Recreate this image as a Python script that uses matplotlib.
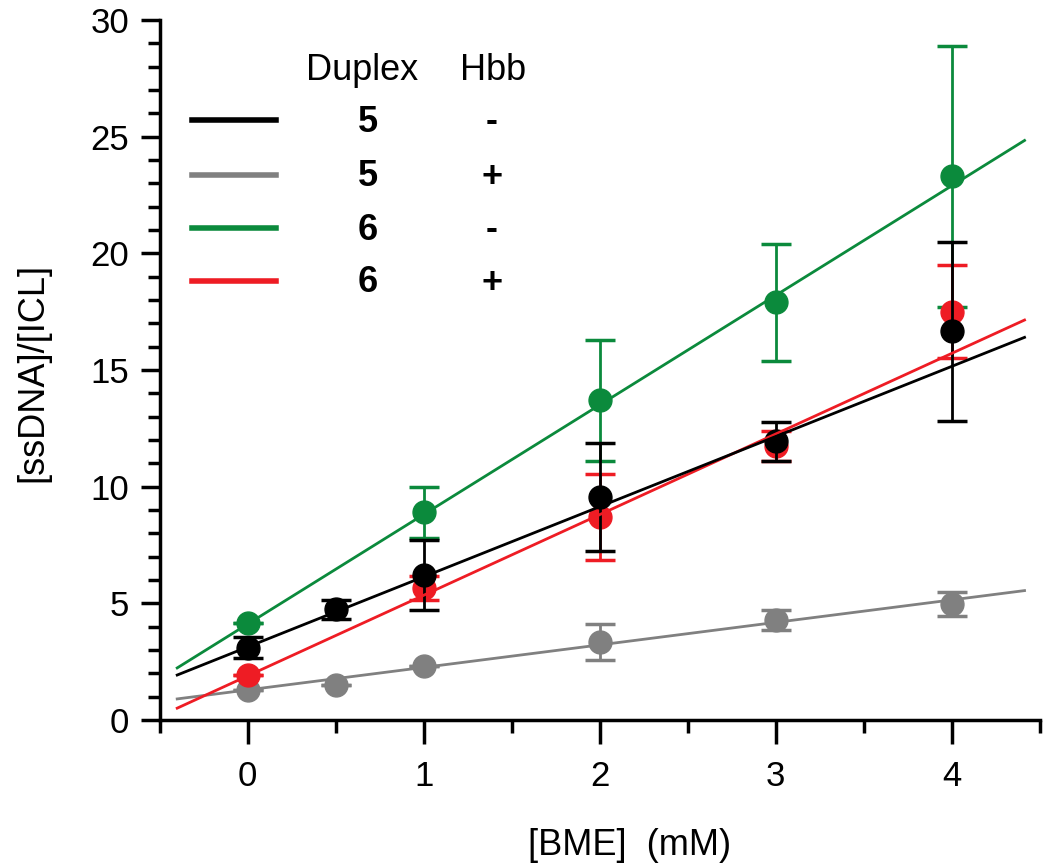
import matplotlib.pyplot as plt
import numpy as np
from matplotlib.ticker import MultipleLocator

plt.rcParams['font.family'] = ['Liberation Sans', 'DejaVu Sans']

# measured data: [BME] (mM) vs [ssDNA]/[ICL]
bme = [0, 0.5, 1, 2, 3, 4]
bme6 = [0, 1, 2, 3, 4]

d5_minus = [3.1, 4.75, 6.2, 9.55, 11.95, 16.65]
d5_minus_err = [0.45, 0.4, 1.5, 2.3, 0.83, 3.83]
d5_plus = [1.28, 1.52, 2.3, 3.35, 4.28, 4.97]
d5_plus_err = [0.0, 0.0, 0.0, 0.77, 0.43, 0.53]
d6_minus = [4.15, 8.9, 13.7, 17.9, 23.3]
d6_minus_err = [0.0, 1.1, 2.6, 2.5, 5.6]
d6_plus = [1.95, 5.65, 8.7, 11.75, 17.5]
d6_plus_err = [0.0, 0.5, 1.86, 0.65, 2.0]

# linear fits (slope, intercept)
fit_d5_minus = (3.005, 3.13)
fit_d5_plus = (0.964, 1.29)
fit_d6_minus = (4.694, 4.11)
fit_d6_plus = (3.454, 1.89)
fit_range = (-0.40, 4.415)

green = '#0b8a3c'
red = '#ee1c24'
gray = '#808080'

series = [
    (bme, d5_plus, d5_plus_err, fit_d5_plus, gray),
    (bme6, d6_minus, d6_minus_err, fit_d6_minus, green),
    (bme6, d6_plus, d6_plus_err, fit_d6_plus, red),
    (bme, d5_minus, d5_minus_err, fit_d5_minus, "black"),
]

fig = plt.figure(figsize=(10.5, 8.65), dpi=100)
ax = fig.add_axes([0.152, 0.1676, 0.838, 0.8094])

xs = np.array(fit_range)
z = 1
for x, y, e, fit, c in series:
    ax.errorbar(x, y, yerr=e, fmt='none', ecolor=c, elinewidth=2,
                capsize=11, capthick=2.5, zorder=z)
    ax.plot(x, y, 'o', color=c, markersize=16.5, zorder=z + 0.5)
    z += 1
for x, y, e, fit, c in series:
    ax.plot(xs, fit[0] * xs + fit[1], color=c, linewidth=2, zorder=10)

ax.set_xlim(-0.5, 4.5)
ax.set_ylim(0, 30)
ax.xaxis.set_major_locator(MultipleLocator(1))
ax.xaxis.set_minor_locator(MultipleLocator(0.5))
ax.yaxis.set_major_locator(MultipleLocator(5))
ax.yaxis.set_minor_locator(MultipleLocator(1))
for s in ['top', 'right']:
    ax.spines[s].set_visible(False)
for s in ['left', 'bottom']:
    ax.spines[s].set_linewidth(2.5)
ax.tick_params(axis='x', which='major', direction='out', length=17, width=2.5,
               labelsize=25, pad=12)
ax.tick_params(axis='x', which='minor', direction='out', length=9, width=2.5)
ax.tick_params(axis='y', which='major', direction='out', length=14, width=2.5,
               labelsize=25, pad=8)
ax.tick_params(axis='y', which='minor', direction='out', length=9, width=2.5)

fig.text(0.60, 0.023, "[BME]  (mM)", fontsize=26, ha='center', va='center')
fig.text(0.031, 0.57, "[ssDNA]/[ICL]", fontsize=26, ha='center', va='center',
         rotation=90)

# custom legend
def fx(px):
    return px / 1050

def fy(py):
    return 1 - py / 865

fig.text(fx(362), fy(70), "Duplex", fontsize=26, ha='center', va='center')
fig.text(fx(493), fy(70), "Hbb", fontsize=26, ha='center', va='center')
legend_rows = [("black", "5", "-"), (gray, "5", "+"), (green, "6", "-"), (red, "6", "+")]
row_y = [120, 175, 228, 281]
for (c, dup, hbb), py in zip(legend_rows, row_y):
    fig.add_artist(plt.Line2D([fx(192), fx(276)], [fy(py), fy(py)], color=c,
                              linewidth=4, transform=fig.transFigure))
    fig.text(fx(368), fy(py + 2), dup, fontsize=26, fontweight='bold',
             ha='center', va='center')
    fig.text(fx(492), fy(py + 2), hbb, fontsize=26, fontweight='bold',
             ha='center', va='center')

plt.savefig("out.png", dpi=100)
plt.close()
